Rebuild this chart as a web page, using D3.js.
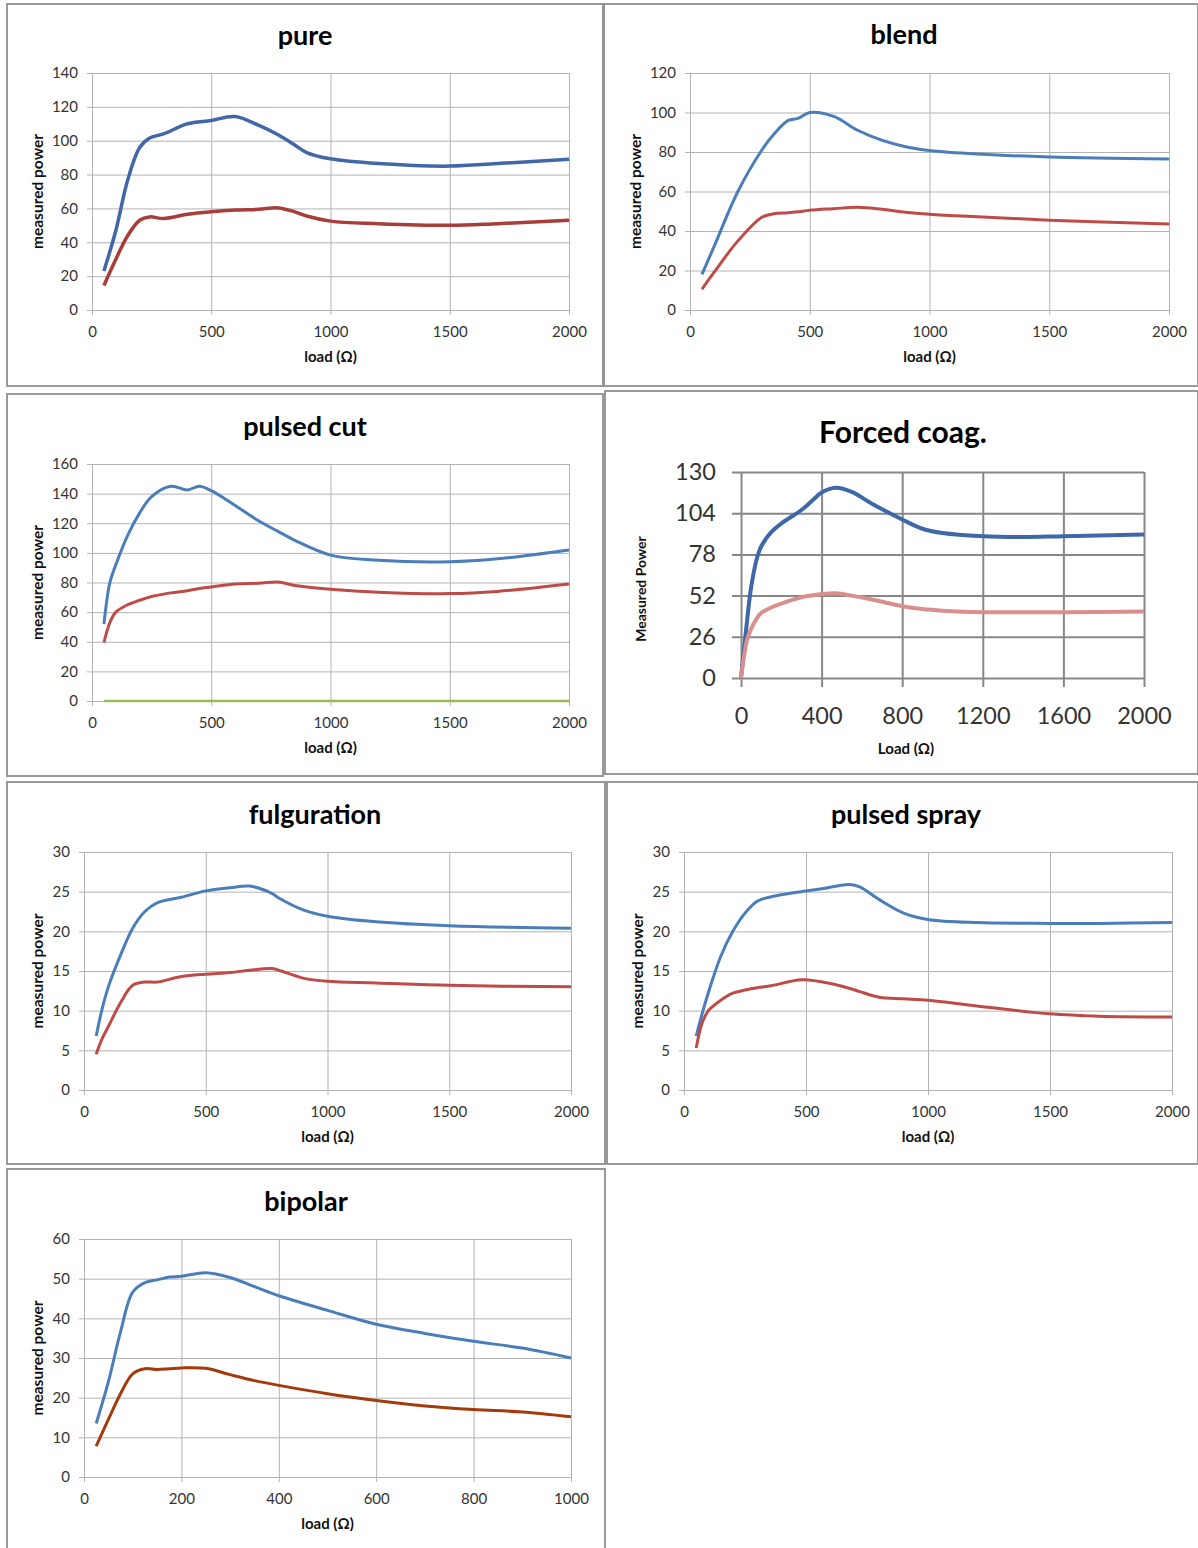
<!DOCTYPE html>
<html>
<head>
<meta charset="utf-8">
<script src="https://cdn.jsdelivr.net/npm/d3@7"></script>
<style>
  html, body { margin: 0; padding: 0; background: #fff; }
  svg { display: block; font-family: Lato, "Open Sans", sans-serif; }
</style>
</head>
<body>
<svg id="chart" width="1198" height="1548"></svg>
<script>
// ---------- DATA ----------
// pure
const pureLoad  = [50,100,150,200,240,300,400,500,600,700,780,850,900,1000,1200,1500,1700,2000];
const pureBlue  = [23,47,77,96,101.5,104,110,112,114.3,109,103.5,97.5,93,89.3,86.5,85,86.5,89];
const pureRed   = [14.5,30,44,53,55,54,56.5,58,59,59.5,60.3,58,55.5,52.5,51,50,51,53];
const pureXTicks = [0,500,1000,1500,2000];
const pureYTicks = [0,20,40,60,80,100,120,140];

// blend
const blendLoad = [50,100,200,300,350,410,450,500,600,700,800,900,1000,1200,1500,2000];
const blendBlue = [18,32,60,81,89,96,97,100,98,91,86,82.7,80.8,79,77.5,76.5];
const blendRed  = [10.5,19,35,47,48.7,49.2,49.7,50.5,51.3,52,51,49.5,48.5,47.2,45.5,43.5];
const blendXTicks = [0,500,1000,1500,2000];
const blendYTicks = [0,20,40,60,80,100,120];

// pulsed cut
const cutLoad  = [50,75,100,150,200,250,330,400,450,500,600,700,780,850,1000,1200,1500,1700,2000];
const cutBlue  = [52,80,92,112,127,138,145,142.5,145,142,132,121.5,114.5,108.5,98.5,95,94,96,102];
const cutRed   = [39.5,53,60,65,68,70.5,73,74.5,76,77,79,79.5,80.3,78,75.5,73.5,72.5,74,79];
const cutGreen = [0,0,0,0,0,0,0,0,0,0,0,0,0,0,0,0,0,0,0];
const cutXTicks = [0,500,1000,1500,2000];
const cutYTicks = [0,20,40,60,80,100,120,140,160];

// forced coag.
const coagLoad = [0,30,50,80,100,150,200,300,350,400,470,550,650,800,900,1000,1200,1400,1600,2000];
const coagBlue = [0,36,57,76,83,92,97.5,106,111.5,117,120,117.4,110,100,94.2,91.5,89.5,89,89.5,90.5];
const coagPink = [0,24,31,38,41,44.5,47,51,52,53,53.5,52,49.5,45.3,43.5,42.5,41.5,41.5,41.5,42];
const coagXTicks = [0,400,800,1200,1600,2000];
const coagYTicks = [0,26,52,78,104,130];

// fulguration
const fulgLoad = [50,75,100,150,200,250,300,400,500,600,680,770,800,900,1000,1200,1500,2000];
const fulgBlue = [6.8,10.3,13,17,20.4,22.5,23.6,24.3,25.1,25.5,25.7,24.8,24.2,22.7,21.9,21.2,20.7,20.4];
const fulgRed  = [4.5,6.5,8,11,13.2,13.6,13.6,14.3,14.6,14.8,15.1,15.3,15.1,14.1,13.7,13.5,13.2,13];
const fulgXTicks = [0,500,1000,1500,2000];
const fulgYTicks = [0,5,10,15,20,25,30];

// pulsed spray
const sprayLoad = [50,75,100,150,200,250,300,350,480,550,680,720,800,900,1000,1200,1500,1700,2000];
const sprayBlue = [6.8,9.7,12.3,16.8,20,22.3,23.8,24.3,25,25.3,25.9,25.6,24,22.3,21.5,21.1,21,21,21.1];
const sprayRed  = [5.3,8.5,10,11.3,12.2,12.6,12.9,13.1,13.9,13.7,12.8,12.4,11.7,11.5,11.3,10.6,9.6,9.3,9.2];
const sprayXTicks = [0,500,1000,1500,2000];
const sprayYTicks = [0,5,10,15,20,25,30];

// bipolar
const bipLoad = [25,50,75,100,125,150,175,200,250,300,350,400,500,600,700,800,900,1000];
const bipBlue = [13.5,24,36.6,46.6,49,49.7,50.4,50.6,51.5,50.3,48,45.7,42,38.5,36.2,34.2,32.5,30];
const bipRed  = [7.8,14.5,21,26,27.3,27.1,27.3,27.5,27.4,25.8,24.3,23.1,21,19.3,17.9,17,16.4,15.2];
const bipXTicks = [0,200,400,600,800,1000];
const bipYTicks = [0,10,20,30,40,50,60];

// ---------- LAYOUT ----------
const BLUE = "#4a7ebb", RED = "#be4b48";
const panels = [
  { title: "pure", box: [7,4,596,382], plot: {l:92,r:569,t:73,b:310}, xd:[0,2000], yd:[0,140],
    xt: pureXTicks, yt: pureYTicks, titleXY:[305,45], xlab:"load (Ω)", xlabY:362, ylab:"measured power", ylabX:38,
    series: [{x:pureLoad,y:pureBlue,c:"#4267a8",w:3.5},{x:pureLoad,y:pureRed,c:"#a83d3a",w:3.5}] },
  { title: "blend", box: [604,4,594,382], plot: {l:690,r:1169,t:73,b:310}, xd:[0,2000], yd:[0,120],
    xt: blendXTicks, yt: blendYTicks, titleXY:[904,44], xlab:"load (Ω)", xlabY:362, ylab:"measured power", ylabX:636,
    series: [{x:blendLoad,y:blendBlue,c:BLUE,w:3},{x:blendLoad,y:blendRed,c:RED,w:3}] },
  { title: "pulsed cut", box: [7,394,596,382], plot: {l:92,r:569,t:464,b:701}, xd:[0,2000], yd:[0,160],
    xt: cutXTicks, yt: cutYTicks, titleXY:[305,436], xlab:"load (Ω)", xlabY:753, ylab:"measured power", ylabX:38,
    series: [{x:cutLoad,y:cutGreen,c:"#9bbb59",w:2.5},{x:cutLoad,y:cutBlue,c:BLUE,w:3},{x:cutLoad,y:cutRed,c:RED,w:3}] },
  { title: "Forced coag.", box: [605,391,593,383], plot: {l:741,r:1144,t:472,b:678}, xd:[0,2000], yd:[0,130],
    xt: coagXTicks, yt: coagYTicks, titleXY:[903,443], xlab:"Load (Ω)", xlabY:754, ylab:"Measured Power", ylabX:641,
    big: true,
    series: [{x:coagLoad,y:coagBlue,c:"#3f68a8",w:4},{x:coagLoad,y:coagPink,c:"#d98f8e",w:4}] },
  { title: "fulguration", box: [7,782,598,382], plot: {l:84,r:571,t:852,b:1090}, xd:[0,2000], yd:[0,30],
    xt: fulgXTicks, yt: fulgYTicks, titleXY:[315,824], xlab:"load (Ω)", xlabY:1142, ylab:"measured power", ylabX:38,
    series: [{x:fulgLoad,y:fulgBlue,c:BLUE,w:3},{x:fulgLoad,y:fulgRed,c:RED,w:3}] },
  { title: "pulsed spray", box: [607,782,591,382], plot: {l:684,r:1172,t:852,b:1090}, xd:[0,2000], yd:[0,30],
    xt: sprayXTicks, yt: sprayYTicks, titleXY:[906,824], xlab:"load (Ω)", xlabY:1142, ylab:"measured power", ylabX:638,
    series: [{x:sprayLoad,y:sprayBlue,c:BLUE,w:3},{x:sprayLoad,y:sprayRed,c:RED,w:3}] },
  { title: "bipolar", box: [7,1169,598,390], plot: {l:84,r:571,t:1239,b:1477}, xd:[0,1000], yd:[0,60],
    xt: bipXTicks, yt: bipYTicks, titleXY:[306,1211], xlab:"load (Ω)", xlabY:1529, ylab:"measured power", ylabX:38,
    series: [{x:bipLoad,y:bipBlue,c:BLUE,w:3},{x:bipLoad,y:bipRed,c:"#a33b0c",w:3}] }
];

const svg = d3.select("#chart");

panels.forEach(p => {
  const g = svg.append("g");
  // border
  g.append("rect")
    .attr("x", p.box[0]).attr("y", p.box[1])
    .attr("width", p.box[2]).attr("height", p.box[3])
    .attr("fill", "#fff").attr("stroke", "#8e8e8e").attr("stroke-width", 1.8);

  const x = d3.scaleLinear().domain(p.xd).range([p.plot.l, p.plot.r]);
  const y = d3.scaleLinear().domain(p.yd).range([p.plot.b, p.plot.t]);

  const gridColor = p.big ? "#878787" : "#b3b3b3";
  const gridW = p.big ? 2 : 1;
  const tickLen = p.big ? 9 : 5;
  const tickFont = p.big ? "23.5px" : "15px";

  // horizontal grid + left tick marks
  const yAxis = d3.axisLeft(y).tickValues(p.yt).tickSize(tickLen).tickSizeOuter(0).tickPadding(p.big ? 16 : 9);
  const ya = g.append("g").attr("transform", `translate(${p.plot.l},0)`).call(yAxis);
  ya.select(".domain").remove();
  ya.selectAll(".tick line").attr("stroke", gridColor).attr("stroke-width", gridW)
    .attr("x2", -tickLen).attr("x1", p.plot.r - p.plot.l);
  ya.selectAll(".tick text").attr("fill", "#333")
    .style("font-size", tickFont).style("font-family", "Lato, sans-serif");

  // vertical grid + bottom tick marks
  const xAxis = d3.axisBottom(x).tickValues(p.xt).tickSize(tickLen).tickSizeOuter(0).tickPadding(p.big ? 20 : 11)
    .tickFormat(d3.format("d"));
  const xa = g.append("g").attr("transform", `translate(0,${p.plot.b})`).call(xAxis);
  xa.select(".domain").remove();
  xa.selectAll(".tick line").attr("stroke", gridColor).attr("stroke-width", gridW)
    .attr("y1", -(p.plot.b - p.plot.t)).attr("y2", tickLen);
  xa.selectAll(".tick text").attr("fill", "#333")
    .style("font-size", tickFont).style("font-family", "Lato, sans-serif");

  // series
  const line = d3.line().curve(d3.curveCatmullRom.alpha(0.5));
  p.series.forEach(s => {
    const pts = s.x.map((v, i) => [x(v), y(s.y[i])]);
    g.append("path").attr("d", line(pts))
      .attr("fill", "none").attr("stroke", s.c).attr("stroke-width", s.w)
      .attr("stroke-linejoin", "round").attr("stroke-linecap", "butt");
  });

  // title
  g.append("text").attr("x", p.titleXY[0]).attr("y", p.titleXY[1])
    .attr("text-anchor", "middle").attr("font-weight", "bold")
    .attr("font-size", p.big ? 30 : 27).attr("fill", "#000").text(p.title);

  // x label
  const xlabX = p.big ? 906 : (p.plot.l + p.plot.r) / 2;
  g.append("text").attr("x", xlabX).attr("y", p.xlabY)
    .attr("text-anchor", "middle").attr("font-weight", "bold")
    .attr("font-size", 15).attr("fill", "#111").text(p.xlab);

  // y label
  const ylabY = (p.plot.t + p.plot.b) / 2 + (p.big ? 14 : 0);
  g.append("text").attr("transform", `translate(${p.ylabX + 5},${ylabY}) rotate(-90)`)
    .attr("text-anchor", "middle").attr("font-weight", "bold")
    .attr("font-size", p.big ? 14 : 15.5).attr("fill", "#111").text(p.ylab);
});
</script>
</body>
</html>
